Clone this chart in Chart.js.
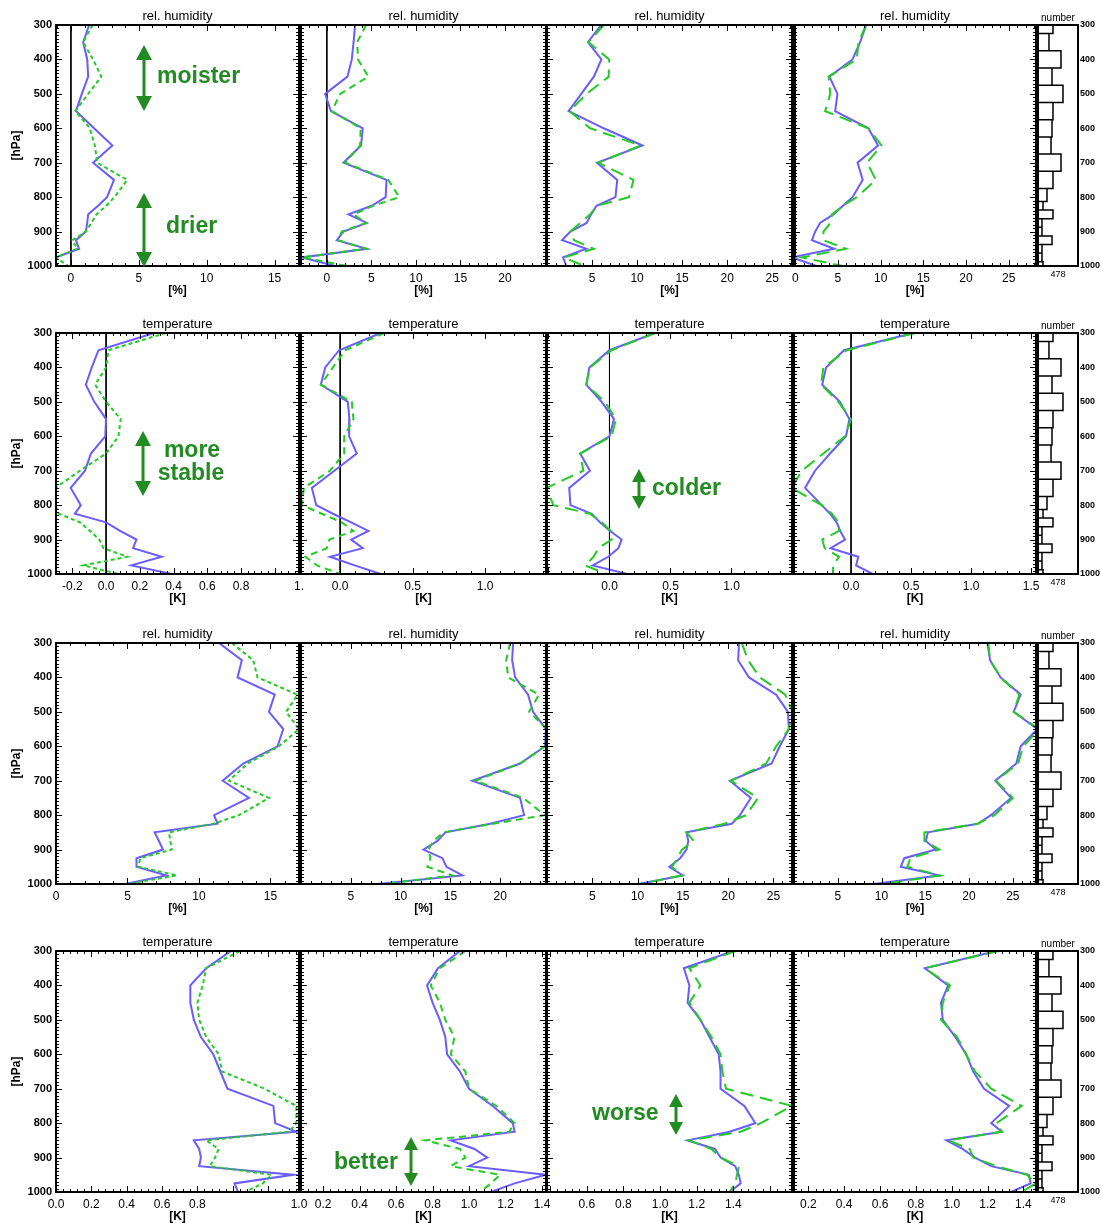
<!DOCTYPE html>
<html><head><meta charset="utf-8">
<script src="https://cdn.jsdelivr.net/npm/chart.js@4.4.1/dist/chart.umd.min.js"></script>
<style>
body{margin:0;background:#fff;width:1101px;height:1223px;overflow:hidden;position:relative;font-family:"Liberation Sans",Arial,Helvetica,sans-serif}
canvas{position:absolute}
.ann{position:absolute;color:#228b22;font:bold 23px "Liberation Sans",Arial,Helvetica,sans-serif;line-height:23px;white-space:nowrap;z-index:5}
#arrows{position:absolute;left:0;top:0;z-index:5}
</style></head><body>
<svg id="arrows" width="1101" height="1223"></svg>
<script>
// ---------------- data ----------------
const levels = [300,350,400,450,500,550,600,650,700,750,800,825,850,875,900,925,950,975,1000];

// row 1: rel. humidity (bias)
const rhBias1Solid = [1.34,0.9,1.2,1.27,0.8,0.37,1.7,3.05,1.63,3.17,2.66,2.0,1.27,1.2,1.1,0.37,0.6,-1.1,-1.1];
const rhBias1Dash  = [1.6,0.9,1.63,2.24,1.27,0.32,1.4,1.76,1.93,4.15,3.2,2.6,1.88,1.5,1.1,0.12,0.46,-1.1,-0.2];
const rhBias2Solid = [3.17,3.0,2.8,2.31,-0.19,0.45,4.03,3.84,1.87,6.7,6.6,5.04,2.43,4.48,1.87,1.12,4.48,-2.8,0.93];
const rhBias2Dash  = [4.4,3.4,3.5,4.66,1.5,0.56,3.8,3.73,2.05,6.9,8.13,5.2,3.0,4.4,1.68,1.3,4.4,-2.8,2.3];
const rhBias3Solid = [6.0,4.55,6.04,5.2,3.8,2.4,6.3,10.6,5.55,7.8,7.6,5.5,4.9,4.4,2.6,1.67,4.37,1.78,2.15];
const rhBias3Dash  = [6.3,4.6,6.9,6.85,4.4,2.5,4.8,10.4,5.7,9.6,9.1,5.55,4.8,3.7,2.6,3.0,5.2,1.9,4.1];
const rhBias4Solid = [8.3,7.6,6.7,4.0,4.94,4.67,8.56,9.7,7.3,7.9,6.7,5.6,4.47,2.9,2.33,1.95,4.55,-0.4,2.5];
const rhBias4Dash  = [8.3,7.4,7.2,3.9,4.1,3.5,8.56,10.1,8.4,9.45,7.2,5.6,4.3,4.1,3.3,3.3,5.95,0.78,5.56];

// row 2: temperature (bias)
const tBias1Solid = [0.285,-0.045,-0.085,-0.12,-0.07,0.0,-0.005,-0.09,-0.125,-0.21,-0.15,-0.185,0.0,0.083,0.18,0.16,0.33,0.15,0.39];
const tBias1Dash  = [0.355,0.014,0.0,-0.065,0.0,0.087,0.073,0.0,-0.155,-0.3,-0.3,-0.28,-0.155,-0.095,-0.04,-0.016,0.127,-0.135,0.073];
const tBias2Solid = [0.28,-0.007,-0.103,-0.133,0.053,0.064,0.062,0.115,-0.04,-0.195,-0.165,-0.05,0.076,0.195,0.076,0.156,-0.07,0.1,0.28];
const tBias2Dash  = [0.305,0.035,-0.05,-0.133,0.08,0.092,0.028,0.028,-0.07,-0.25,-0.265,-0.126,0.011,0.092,-0.074,-0.092,-0.24,-0.16,0.0];
const tBias3Solid = [0.373,0.0,-0.165,-0.19,-0.064,0.037,0.0,-0.24,-0.16,-0.33,-0.32,-0.146,-0.078,0.005,0.1,0.073,-0.01,-0.138,0.146];
const tBias3Dash  = [0.373,0.018,-0.16,-0.19,-0.037,0.053,0.018,-0.24,-0.214,-0.515,-0.46,-0.16,-0.064,0.012,0.018,-0.09,-0.13,-0.2,-0.023];
const tBias4Solid = [0.52,-0.058,-0.208,-0.24,-0.092,-0.014,-0.042,-0.175,-0.3,-0.383,-0.244,-0.175,-0.12,-0.09,-0.05,-0.17,0.06,0.042,0.18];
const tBias4Dash  = [0.533,-0.036,-0.23,-0.25,-0.105,0.0,-0.05,-0.23,-0.41,-0.494,-0.244,-0.16,-0.105,-0.1,-0.24,-0.22,-0.1,-0.15,-0.15];

// row 3: rel. humidity (std. dev.)
const rhStd1Solid = [11.4,13.0,12.7,15.3,14.9,15.9,15.5,13.1,11.66,13.5,11.06,11.3,6.9,7.2,7.48,5.63,5.63,7.7,4.85];
const rhStd1Dash  = [12.3,13.8,14.1,16.9,16.1,17.0,15.6,13.4,12.1,14.9,12.8,11.0,7.9,8.0,8.1,5.9,5.75,8.47,5.0];
const rhStd2Solid = [21.3,21.2,21.5,22.8,23.3,24.6,24.5,22.0,17.2,22.0,22.4,19.0,14.5,13.7,12.3,14.2,14.6,16.2,7.7];
const rhStd2Dash  = [21.0,20.6,20.8,23.9,22.9,24.7,24.5,22.0,17.5,22.3,24.5,19.3,14.3,13.3,12.8,13.0,12.7,15.2,8.3];
const rhStd3Solid = [21.2,21.1,22.3,25.3,26.6,26.7,25.7,24.8,20.2,22.5,21.3,20.4,15.4,15.6,15.4,14.7,13.5,15.0,10.1];
const rhStd3Dash  = [21.5,22.2,23.5,26.3,27.1,26.7,25.3,24.2,20.3,23.3,22.0,19.6,15.4,16.2,14.9,14.4,13.8,14.9,10.3];
const rhStd4Solid = [22.1,22.4,23.6,25.9,25.1,27.8,25.9,25.4,23.0,24.8,22.5,21.0,15.3,15.06,16.2,12.6,12.2,16.6,9.1];
const rhStd4Dash  = [22.2,22.4,23.6,25.75,25.1,28.0,26.2,25.6,23.1,25.0,22.9,21.0,14.9,14.9,16.6,13.3,12.95,16.7,10.3];

// row 4: temperature (std. dev.)
const tStd1Solid = [0.99,0.85,0.76,0.76,0.78,0.82,0.89,0.93,0.97,1.23,1.24,1.36,0.78,0.81,0.82,0.81,1.34,1.01,1.03];
const tStd1Dash  = [1.04,0.85,0.83,0.8,0.81,0.85,0.92,0.94,1.18,1.36,1.36,1.32,0.85,0.92,0.9,0.87,1.22,1.17,1.07];
const tStd2Solid = [0.95,0.83,0.77,0.8,0.84,0.87,0.88,0.95,1.0,1.13,1.24,1.25,0.9,1.03,1.1,1.0,1.42,1.25,1.12];
const tStd2Dash  = [0.98,0.84,0.79,0.84,0.87,0.92,0.9,0.98,1.0,1.15,1.25,1.22,0.76,0.95,0.98,0.9,1.17,1.12,1.06];
const tStd3Solid = [1.4,1.13,1.16,1.15,1.22,1.27,1.32,1.33,1.33,1.46,1.52,1.38,1.15,1.3,1.33,1.41,1.43,1.44,1.38];
const tStd3Dash  = [1.41,1.16,1.22,1.16,1.22,1.28,1.33,1.34,1.36,1.72,1.55,1.44,1.16,1.28,1.33,1.43,1.42,1.41,1.38];
const tStd4Solid = [1.25,0.85,0.98,0.94,0.95,1.02,1.08,1.12,1.18,1.32,1.22,1.28,0.97,1.06,1.13,1.22,1.43,1.44,1.33];
const tStd4Dash  = [1.26,0.85,0.99,0.95,0.94,1.03,1.08,1.13,1.22,1.39,1.25,1.28,0.98,1.1,1.12,1.25,1.42,1.47,1.39];

// number of observations per pressure bin
const binEdges = [300,325,375,425,475,525,575,625,675,725,775,812.5,837.5,862.5,887.5,912.5,937.5,962.5,987.5,1000];
const binCounts = [287,210,440,268,478,287,268,249,440,287,172,96,287,76,76,268,76,76,96];
const countLabel = '478';

// tick labels
const pressureTicks = [300,400,500,600,700,800,900,1000];
const ticksRow1 = [[0,5,10,15],[0,5,10,15,20],[5,10,15,20,25],[0,5,10,15,20,25]];
const ticksRow2 = [[-0.2,0,0.2,0.4,0.6,0.8],[0,0.5,1.0],[0,0.5,1.0],[0,0.5,1.0,1.5]];
const ticksRow3 = [[0,5,10,15],[5,10,15,20],[5,10,15,20,25],[5,10,15,20,25]];
const ticksRow4 = [[0,0.2,0.4,0.6,0.8],[0.2,0.4,0.6,0.8,1.0,1.2,1.4],[0.6,0.8,1.0,1.2,1.4],[0.2,0.4,0.6,0.8,1.0,1.2,1.4]];
const edgeLabelRow2 = '1.';
const edgeLabelRow4 = '1.0';

// ---------------- layout / style ----------------
const FONT = '"Liberation Sans", Arial, Helvetica, sans-serif';
const BLUE = '#6a5cff', GREEN = '#22cc22';
const DASHES = {dot:[4,3], dash:[7,5], long:[13,7]};
const panelX = [[56,299],[301,546],[547,792],[794,1036]];
const histX = [1038,1078];
const rowTop = [25,333,643,951];
const PLOT_H = 241, TOP_H = 17, BOT_H = 34, PAD = 10;

const rows = [
  {title:'rel. humidity', unit:'[%]', zero:true, dec:0, major:5, minor:1, ticks:ticksRow1,
   panels:[{s:rhBias1Solid,d:rhBias1Dash,r:[-1.1,16.8],st:'dot'},{s:rhBias2Solid,d:rhBias2Dash,r:[-2.9,24.6],st:'dash'},
           {s:rhBias3Solid,d:rhBias3Dash,r:[0,27.2],st:'long'},{s:rhBias4Solid,d:rhBias4Dash,r:[-0.15,28.2],st:'long'}]},
  {title:'temperature', unit:'[K]', zero:true, dec:1, major:[0.2,0.5,0.5,0.5], minor:[0.04,0.1,0.1,0.1], ticks:ticksRow2, edge:edgeLabelRow2,
   panels:[{s:tBias1Solid,d:tBias1Dash,r:[-0.297,1.144],st:'dot'},{s:tBias2Solid,d:tBias2Dash,r:[-0.27,1.42],st:'dash'},
           {s:tBias3Solid,d:tBias3Dash,r:[-0.512,1.496],st:'long'},{s:tBias4Solid,d:tBias4Dash,r:[-0.475,1.54],st:'long'}]},
  {title:'rel. humidity', unit:'[%]', zero:false, dec:0, major:5, minor:1, ticks:ticksRow3,
   panels:[{s:rhStd1Solid,d:rhStd1Dash,r:[0,17],st:'dot'},{s:rhStd2Solid,d:rhStd2Dash,r:[0,24.6],st:'dash'},
           {s:rhStd3Solid,d:rhStd3Dash,r:[0,27.05],st:'long'},{s:rhStd4Solid,d:rhStd4Dash,r:[0,27.65],st:'long'}]},
  {title:'temperature', unit:'[K]', zero:false, dec:1, major:0.2, minor:0.04, ticks:ticksRow4, edge:edgeLabelRow4,
   panels:[{s:tStd1Solid,d:tStd1Dash,r:[0,1.375],st:'dot'},{s:tStd2Solid,d:tStd2Dash,r:[0.079,1.422],st:'dash'},
           {s:tStd3Solid,d:tStd3Dash,r:[0.383,1.72],st:'long'},{s:tStd4Solid,d:tStd4Dash,r:[0.12,1.47],st:'long'}]}
];

const framePlugin = {
  id:'frame',
  afterDraw(chart, args, o) {
    const {ctx, chartArea:a} = chart; const x = chart.scales.x, y = chart.scales.y;
    ctx.save(); ctx.strokeStyle = '#000'; ctx.lineWidth = 1; ctx.beginPath();
    if (o.xMinor) {
      const k0 = Math.ceil(x.min/o.xMinor - 1e-6), k1 = Math.floor(x.max/o.xMinor + 1e-6);
      for (let k = k0; k <= k1; k++) {
        const v = k*o.xMinor, r = v/o.xMajor, maj = Math.abs(r - Math.round(r)) < 1e-6, L = maj ? 6 : 3;
        const px = Math.round(x.getPixelForValue(v)) + 0.5;
        ctx.moveTo(px, a.bottom); ctx.lineTo(px, a.bottom - L);
        ctx.moveTo(px, a.top); ctx.lineTo(px, a.top + L);
      }
    }
    if (o.yTicks) {
      for (let v = 300; v <= 1000; v += 10) {
        const L = v % 100 === 0 ? 6 : 3; const py = Math.round(y.getPixelForValue(v)) + 0.5;
        ctx.moveTo(a.left, py); ctx.lineTo(a.left + L, py);
        ctx.moveTo(a.right, py); ctx.lineTo(a.right - L, py);
      }
    }
    ctx.stroke();
    ctx.lineWidth = 2; ctx.strokeRect(a.left, a.top, a.width, a.height);
    ctx.restore();
  }
};

function addCanvas(l, t, w, h) {
  const c = document.createElement('canvas');
  c.width = w; c.height = h; c.style.left = l + 'px'; c.style.top = t + 'px';
  c.style.width = w + 'px'; c.style.height = h + 'px';
  document.body.appendChild(c); return c;
}
const fmt = (v, dec) => dec ? v.toFixed(dec) : String(v);
const pick = (v, i) => Array.isArray(v) ? v[i] : v;

rows.forEach((row, ri) => {
  const top = rowTop[ri];
  row.panels.forEach((p, pi) => {
    const [pl, pr] = panelX[pi]; const pw = pr - pl; const first = pi === 0;
    const left = first ? 0 : pl - PAD;
    const width = (first ? pl : PAD) + pw + PAD;
    const cv = addCanvas(left, top - TOP_H, width, TOP_H + PLOT_H + BOT_H);
    let tv = row.ticks[pi].slice(); let tt = tv.map(v => fmt(v, row.dec));
    if (first && row.edge) { tv.push(p.r[1]); tt.push(row.edge); }
    const ds = [
      {data: levels.map((lv,i) => ({x:p.d[i], y:lv})), borderColor:GREEN, borderWidth:2, borderDash:DASHES[p.st], pointRadius:0, tension:0},
      {data: levels.map((lv,i) => ({x:p.s[i], y:lv})), borderColor:BLUE, borderWidth:2, pointRadius:0, tension:0}
    ];
    if (row.zero) ds.push({data:[{x:0,y:300},{x:0,y:1000}], borderColor:'#000', borderWidth:1, pointRadius:0});
    new Chart(cv, {
      type:'line',
      data:{datasets: ds},
      options:{
        responsive:false, animation:false, events:[],
        layout:{padding:{left: first ? 0 : PAD, right: PAD, top:0, bottom:0}},
        plugins:{
          legend:{display:false}, tooltip:{enabled:false},
          title:{display:true, text:row.title, fullSize:false, color:'#000',
                 font:{family:FONT, size:13, weight:'normal', lineHeight:1}, padding:{top:2, bottom:2}},
          frame:{xMinor:pick(row.minor,pi), xMajor:pick(row.major,pi), yTicks:true}
        },
        scales:{
          x:{type:'linear', position:'bottom', min:p.r[0], max:p.r[1],
             grid:{display:false, drawTicks:false}, border:{display:false},
             ticks:{font:{family:FONT, size:12}, color:'#000', padding:5, maxRotation:0, autoSkip:false,
                    callback:(v,i) => tt[i]},
             title:{display:true, text:row.unit, color:'#000', font:{family:FONT, size:12, weight:'bold'}, padding:{top:0, bottom:2}},
             afterBuildTicks: s => { s.ticks = tv.map(v => ({value:v})); },
             afterFit: s => { s.height = BOT_H; s.paddingLeft = 0; s.paddingRight = 0; }},
          y:{type:'linear', position:'left', min:300, max:1000, reverse:true, display:true,
             grid:{display:false, drawTicks:false}, border:{display:false},
             ticks:{display:first, font:{family:FONT, size:11, weight:'bold'}, color:'#000', padding:4, autoSkip:false, callback:v => String(v)},
             title:{display:first, text:'[hPa]', color:'#000', font:{family:FONT, size:12, weight:'bold'}, padding:{top:9, bottom:0}},
             afterBuildTicks: s => { s.ticks = pressureTicks.map(v => ({value:v})); },
             afterFit: s => { s.width = first ? pl : 0; s.paddingTop = 0; s.paddingBottom = 0; }}
        }
      },
      plugins:[framePlugin]
    });
  });

  // histogram of number of observations
  const hw = histX[1] - histX[0];
  const hc = addCanvas(histX[0] - 4, top - TOP_H, 4 + hw + 23, TOP_H + PLOT_H + BOT_H);
  const outline = [];
  binCounts.forEach((c, i) => {
    outline.push({x:0, y:binEdges[i]}, {x:c, y:binEdges[i]}, {x:c, y:binEdges[i+1]}, {x:0, y:binEdges[i+1]});
  });
  new Chart(hc, {
    type:'line',
    data:{datasets:[{data:outline, borderColor:'#000', borderWidth:1.5, pointRadius:0, tension:0}]},
    options:{
      responsive:false, animation:false, events:[],
      layout:{padding:{left:4, right:0, top:0, bottom:0}},
      plugins:{legend:{display:false}, tooltip:{enabled:false},
        title:{display:true, text:'number', fullSize:false, color:'#000', font:{family:FONT, size:10, weight:'normal', lineHeight:1}, padding:{top:5, bottom:2}},
        frame:{yTicks:false}},
      scales:{
        x:{type:'linear', min:0, max:765, grid:{display:false, drawTicks:false}, border:{display:false},
           ticks:{display:false},
           title:{display:true, text:countLabel, color:'#000', font:{family:FONT, size:9}, padding:{top:0, bottom:20}},
           afterFit: s => { s.height = BOT_H; s.paddingLeft = 0; s.paddingRight = 0; }},
        y:{type:'linear', position:'right', min:300, max:1000, reverse:true,
           grid:{display:false, drawTicks:false}, border:{display:false},
           ticks:{font:{family:FONT, size:9, weight:'bold'}, color:'#000', padding:2, autoSkip:false, callback:v => String(v)},
           afterBuildTicks: s => { s.ticks = pressureTicks.map(v => ({value:v})); },
           afterFit: s => { s.width = 23; s.paddingTop = 0; s.paddingBottom = 0; }}
      }
    },
    plugins:[framePlugin]
  });
});

// ---------------- annotations ----------------
const arrowSpecs = [
  {x:144, y1:45, y2:111, w:8, h:15}, {x:144, y1:193, y2:267, w:8, h:15},
  {x:143, y1:431, y2:496, w:8, h:15}, {x:639, y1:469, y2:509, w:7, h:13},
  {x:411, y1:1137, y2:1186, w:7, h:13}, {x:676, y1:1094, y2:1135, w:7, h:13}
];
const G = '#228b22';
let svg = '';
arrowSpecs.forEach(a => {
  svg += `<line x1="${a.x}" y1="${a.y1+a.h-1}" x2="${a.x}" y2="${a.y2-a.h+1}" stroke="${G}" stroke-width="3"/>`;
  svg += `<polygon points="${a.x},${a.y1} ${a.x-a.w},${a.y1+a.h} ${a.x+a.w},${a.y1+a.h}" fill="${G}"/>`;
  svg += `<polygon points="${a.x},${a.y2} ${a.x-a.w},${a.y2-a.h} ${a.x+a.w},${a.y2-a.h}" fill="${G}"/>`;
});
document.getElementById('arrows').innerHTML = svg;
const annTexts = [
  {t:'moister', x:157, b:83}, {t:'drier', x:166, b:233},
  {t:'more', cx:192, b:457}, {t:'stable', cx:191, b:480},
  {t:'colder', x:652, b:495}, {t:'better', x:334, b:1169}, {t:'worse', x:592, b:1120}
];
annTexts.forEach(a => {
  const d = document.createElement('div'); d.className = 'ann'; d.textContent = a.t;
  d.style.top = (a.b - 19.5) + 'px';
  if (a.cx !== undefined) { d.style.left = a.cx + 'px'; d.style.transform = 'translateX(-50%)'; }
  else d.style.left = a.x + 'px';
  document.body.appendChild(d);
});
</script>
</body></html>
